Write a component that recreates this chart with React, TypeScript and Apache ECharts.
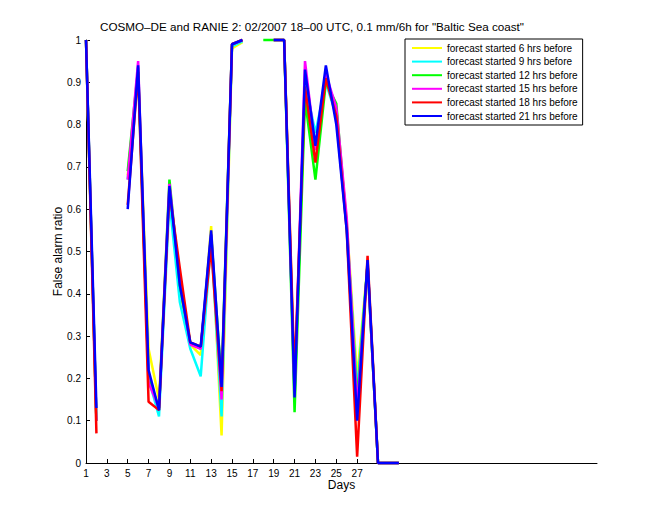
import React, { useEffect, useRef } from "react";
import * as echarts from "echarts";

const days = [1, 2, 3, 4, 5, 6, 7, 8, 9, 10, 11, 12, 13, 14, 15, 16, 17, 18, 19, 20, 21, 22, 23, 24, 25, 26, 27, 28, 29, 30, 31];

const seriesNames = [
  "forecast started 6 hrs before",
  "forecast started 9 hrs before",
  "forecast started 12 hrs before",
  "forecast started 15 hrs before",
  "forecast started 18 hrs before",
  "forecast started 21 hrs before",
];

const seriesColors = ["#ffff00", "#00ffff", "#00ff00", "#ff00ff", "#ff0000", "#0000ff"];

const far6h = [1, 0.1, null, null, 0.68, 0.92, 0.27, 0.15, 0.65, 0.41, 0.28, 0.255, 0.56, 0.065, 0.98, 0.995, null, null, 1, 1, 0.18, 0.88, 0.74, 0.9, 0.83, 0.57, 0.2, 0.47, 0, 0, 0];
const far9h = [1, 0.1, null, null, 0.67, 0.92, 0.2, 0.11, 0.62, 0.38, 0.27, 0.205, 0.53, 0.11, 0.985, 0.997, null, null, 1, 1, 0.17, 0.9, 0.78, 0.9, 0.82, 0.56, 0.17, 0.47, 0, 0, 0];
const far12h = [1, 0.1, null, null, 0.69, 0.935, 0.2, 0.13, 0.67, 0.42, 0.285, 0.27, 0.54, 0.19, 0.99, 1, null, 1, 1, 1, 0.12, 0.86, 0.67, 0.9, 0.85, 0.56, 0.15, 0.47, 0, 0, 0];
const far15h = [1, 0.1, null, null, 0.67, 0.95, 0.19, 0.13, 0.66, 0.43, 0.28, 0.27, 0.54, 0.15, 0.99, 1, null, null, 1, 1, 0.17, 0.95, 0.74, 0.92, 0.84, 0.58, 0.13, 0.47, 0, 0, 0];
const far18h = [1, 0.07, null, null, 0.61, 0.925, 0.145, 0.125, 0.64, 0.46, 0.285, 0.275, 0.51, 0.17, 0.99, 1, null, null, 1, 1, 0.2, 0.89, 0.71, 0.91, 0.82, 0.55, 0.015, 0.49, 0, 0, 0];
const far21h = [1, 0.13, null, null, 0.6, 0.94, 0.22, 0.125, 0.655, 0.42, 0.285, 0.275, 0.55, 0.18, 0.99, 1, null, null, 1, 1, 0.155, 0.93, 0.75, 0.94, 0.8, 0.55, 0.1, 0.48, 0, 0, 0];

const allValues = [far6h, far9h, far12h, far15h, far18h, far21h];

const xTickValues = [1, 3, 5, 7, 9, 11, 13, 15, 17, 19, 21, 23, 25, 27];

const titleText = 'COSMO–DE and RANIE 2: 02/2007 18–00 UTC, 0.1 mm/6h for "Baltic Sea coast"';
const FONT = "'Liberation Sans', Arial, sans-serif";

export default function App() {
  const ref = useRef<HTMLDivElement>(null);
  useEffect(() => {
    if (!ref.current) return;
    const chart = echarts.init(ref.current, null, { renderer: "svg" });
    const series = allValues.map((vals, i) => ({
      name: seriesNames[i],
      type: "line",
      data: days.map((d, j) => [d, vals[j]]),
      showSymbol: false,
      symbol: "none",
      connectNulls: false,
      lineStyle: { color: seriesColors[i], width: 2.5 },
      itemStyle: { color: seriesColors[i] },
      z: 2 + i,
      clip: false,
    }));
    chart.setOption({
      animation: false,
      backgroundColor: "#ffffff",
      title: {
        text: titleText,
        left: 307,
        top: 15,
        textAlign: "center",
        textStyle: { fontFamily: FONT, fontSize: 11.7, fontWeight: "normal", color: "#000" },
      },
      legend: {
        orient: "vertical",
        left: 405,
        top: 39,
        padding: [4, 5, 4, 6],
        itemGap: 3.6,
        itemWidth: 30,
        itemHeight: 10,
        backgroundColor: "#fff",
        borderColor: "#000",
        borderWidth: 1,
        itemStyle: { opacity: 0 },
        textStyle: { fontFamily: FONT, fontSize: 10, color: "#000" },
        data: seriesNames,
      },
      grid: { left: 86, right: 63, top: 40, bottom: 57, containLabel: false },
      xAxis: {
        type: "value",
        min: 1,
        max: 50,
        name: "Days",
        nameLocation: "middle",
        nameGap: 16,
        nameMoveOverlap: false,
        nameTextStyle: { fontFamily: FONT, fontSize: 12, color: "#000" },
        axisLine: { show: true, lineStyle: { color: "#000", width: 1 } },
        axisTick: { show: true, inside: true, length: 4, customValues: xTickValues, lineStyle: { color: "#000" } },
        axisLabel: { customValues: xTickValues, fontFamily: FONT, fontSize: 10, color: "#000", margin: 5 },
        splitLine: { show: false },
      },
      yAxis: {
        type: "value",
        min: 0,
        max: 1,
        interval: 0.1,
        name: "False alarm ratio",
        nameLocation: "middle",
        nameGap: 22,
        nameMoveOverlap: false,
        nameTextStyle: { fontFamily: FONT, fontSize: 12, color: "#000" },
        axisLine: { show: true, lineStyle: { color: "#000", width: 1 } },
        axisTick: { show: true, inside: true, length: 4, lineStyle: { color: "#000" } },
        axisLabel: {
          fontFamily: FONT,
          fontSize: 10,
          color: "#000",
          margin: 5,
          formatter: (v: number) => String(parseFloat(v.toFixed(1))),
        },
        splitLine: { show: false },
      },
      series,
    });
    return () => chart.dispose();
  }, []);
  return <div ref={ref} style={{ position: "absolute", left: 0, top: 0, width: 660, height: 520 }} />;
}
